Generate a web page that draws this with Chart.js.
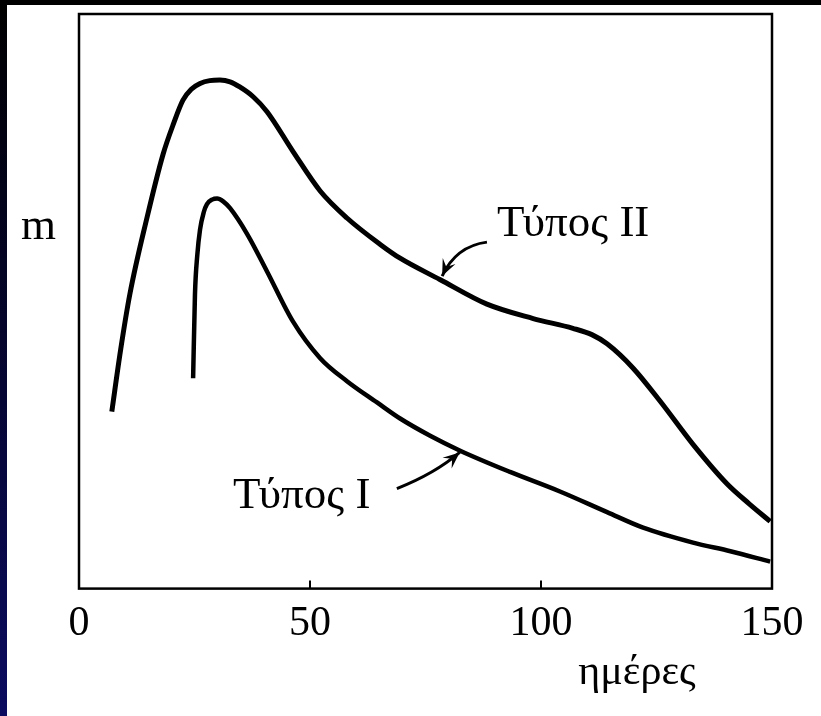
<!DOCTYPE html>
<html>
<head>
<meta charset="utf-8">
<script src="https://cdn.jsdelivr.net/npm/chart.js@4/dist/chart.umd.min.js"></script>
<style>
    body { margin: 0; width: 821px; height: 716px; overflow: hidden; background: linear-gradient(#000000, #0b0b60); position: relative; }
    #fundo { position: absolute; left: 7px; top: 5px; right: 0; bottom: 0; background: #ffffff; }
    #grafico { position: absolute; left: 0; top: 0; }
</style>
</head>
<body>
<div id="fundo"></div>
<canvas id="grafico" width="821" height="716"></canvas>
<script>
// dias (eixo x) e valores de m lidos da figura, y de 0 a 100 (sem escala no original)
let diasTipo2 = [7.1, 9.0, 11.0, 14.7, 18.2, 20.5, 22.5, 24.3, 26.2, 28.3, 30.5, 32.7, 34.8, 37.7, 40.7, 46.3, 52.2, 58.0, 65.2, 69.5, 78.1, 88.3, 98.3, 106.9, 111.0, 114.3, 119.9, 125.8, 132.9, 140.3, 145.0, 149.6];
let mTipo2 = [30.8, 41.5, 51.2, 64.5, 75.6, 81.0, 85.0, 86.9, 87.9, 88.4, 88.5, 88.2, 87.3, 85.6, 83.0, 76.1, 69.2, 64.5, 59.9, 57.5, 53.8, 49.5, 47.0, 45.3, 44.2, 42.6, 38.4, 32.6, 25.1, 18.2, 14.8, 11.7];

let diasTipo1 = [24.7, 25.1, 25.6, 26.2, 27.0, 27.7, 28.8, 29.9, 31.2, 32.7, 36.4, 40.7, 46.3, 52.2, 58.0, 64.5, 69.5, 76.0, 82.5, 93.3, 104.1, 114.3, 122.1, 132.9, 141.0, 149.6];
let mTipo1 = [36.6, 51.2, 58.0, 62.5, 65.5, 66.9, 67.7, 67.9, 67.4, 66.2, 61.7, 55.2, 46.5, 40.1, 36.1, 32.4, 29.6, 26.6, 24.0, 20.3, 16.9, 13.3, 10.6, 8.0, 6.5, 4.7];

let ticksX = [0, 50, 100, 150];
let rotulos = ['Τύπος I', 'Τύπος II'];
let tituloX = 'ημέρες';
let tituloY = 'm';

function pontos(xs, ys) {
    let lista = [];
    for (let i = 0; i < xs.length; i++) {
        lista.push({ x: xs[i], y: ys[i] });
    }
    return lista;
}

const fonteSerif = '"Liberation Serif", "DejaVu Serif", serif';

// seta curva de (x0,y0) ate (x1,y1) em valores dos eixos
function seta(ctx, sx, sy, x0, y0, cx, cy, x1, y1) {
    let ax = sx.getPixelForValue(x0), ay = sy.getPixelForValue(y0);
    let bx = sx.getPixelForValue(cx), by = sy.getPixelForValue(cy);
    let px = sx.getPixelForValue(x1), py = sy.getPixelForValue(y1);
    ctx.beginPath();
    ctx.moveTo(ax, ay);
    ctx.quadraticCurveTo(bx, by, px, py);
    ctx.stroke();
    let ang = Math.atan2(py - by, px - bx);
    let tam = 18;
    ctx.beginPath();
    ctx.moveTo(px, py);
    ctx.lineTo(px - tam * Math.cos(ang - 0.4), py - tam * Math.sin(ang - 0.4));
    ctx.lineTo(px - tam * 0.55 * Math.cos(ang), py - tam * 0.55 * Math.sin(ang));
    ctx.lineTo(px - tam * Math.cos(ang + 0.4), py - tam * Math.sin(ang + 0.4));
    ctx.closePath();
    ctx.fill();
}

const extras = {
    id: 'extras',
    afterDraw(chart) {
        let ctx = chart.ctx;
        let area = chart.chartArea;
        let sx = chart.scales.x;
        let sy = chart.scales.y;
        ctx.save();
        ctx.strokeStyle = '#000';
        ctx.fillStyle = '#000';

        // moldura
        ctx.lineWidth = 2.5;
        ctx.strokeRect(area.left, area.top, area.right - area.left, area.bottom - area.top);

        // marcas internas no eixo x
        ctx.lineWidth = 2;
        for (let i = 1; i < ticksX.length - 1; i++) {
            let x = sx.getPixelForValue(ticksX[i]);
            ctx.beginPath();
            ctx.moveTo(x, area.bottom);
            ctx.lineTo(x, area.bottom - 8);
            ctx.stroke();
        }

        // setas
        ctx.lineWidth = 3;
        seta(ctx, sx, sy, 88.3, 60.3, 81.6, 59.6, 78.6, 54.4);
        seta(ctx, sx, sy, 68.8, 17.4, 77.0, 20.0, 82.4, 23.7);

        // textos
        ctx.textBaseline = 'alphabetic';
        ctx.textAlign = 'left';
        ctx.font = '45px ' + fonteSerif;
        ctx.fillText(rotulos[1], 497, 236);
        ctx.fillText(rotulos[0], 233, 508);
        ctx.fillText(tituloY, 21, 239);
        ctx.textAlign = 'center';
        ctx.font = '42px ' + fonteSerif;
        ctx.fillText(tituloX, 637, 684);
        ctx.restore();
    }
};

const ctx = document.getElementById('grafico');
new Chart(ctx, {
    type: 'line',
    data: {
        datasets: [{
            label: rotulos[1],
            data: pontos(diasTipo2, mTipo2),
            borderColor: '#000',
            borderWidth: 5,
            pointRadius: 0,
            cubicInterpolationMode: 'monotone',
            fill: false
        }, {
            label: rotulos[0],
            data: pontos(diasTipo1, mTipo1),
            borderColor: '#000',
            borderWidth: 4.5,
            pointRadius: 0,
            cubicInterpolationMode: 'monotone',
            fill: false
        }]
    },
    options: {
        responsive: false,
        animation: false,
        layout: {
            padding: { left: 79, right: 49, top: 14, bottom: 57 }
        },
        plugins: {
            legend: { display: false },
            tooltip: { enabled: false }
        },
        scales: {
            x: {
                type: 'linear',
                min: 0,
                max: 150,
                afterBuildTicks: function (eixo) {
                    eixo.ticks = ticksX.map(function (v) { return { value: v }; });
                },
                grid: { display: false, drawTicks: false },
                border: { display: false },
                ticks: {
                    color: '#000',
                    padding: 10,
                    maxRotation: 0,
                    font: { family: fonteSerif, size: 42 }
                }
            },
            y: {
                min: 0,
                max: 100,
                display: false
            }
        }
    },
    plugins: [extras]
});
</script>
</body>
</html>
